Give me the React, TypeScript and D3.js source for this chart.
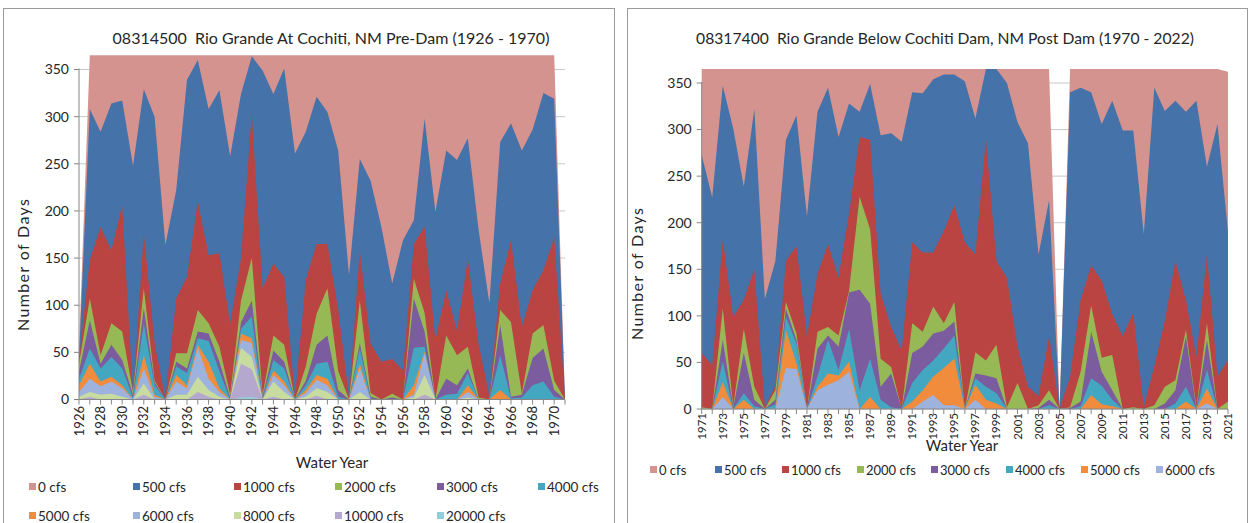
import React from 'react';
import * as d3 from 'd3';

// ---- categories ----
const preYears = [
  1926, 1927, 1928, 1929, 1930, 1931, 1932, 1933, 1934, 1935, 1936, 1937, 1938, 1939, 1940, 1941,
  1942, 1943, 1944, 1945, 1946, 1947, 1948, 1949, 1950, 1951, 1952, 1953, 1954, 1955, 1956, 1957,
  1958, 1959, 1960, 1961, 1962, 1963, 1964, 1965, 1966, 1967, 1968, 1969, 1970, 1971,
];
const postYears = [
  1971, 1972, 1973, 1974, 1975, 1976, 1977, 1978, 1979, 1980, 1981, 1982, 1983, 1984, 1985, 1986,
  1987, 1988, 1989, 1990, 1991, 1992, 1993, 1994, 1995, 1996, 1997, 1998, 1999, 2000, 2001, 2002,
  2003, 2004, 2005, 2006, 2007, 2008, 2009, 2010, 2011, 2012, 2013, 2014, 2015, 2016, 2017, 2018,
  2019, 2020, 2021,
];

const yTicks = [0, 50, 100, 150, 200, 250, 300, 350];
const legendNames = ['0 cfs', '500 cfs', '1000 cfs', '2000 cfs', '3000 cfs', '4000 cfs', '5000 cfs', '6000 cfs', '8000 cfs', '10000 cfs', '20000 cfs'];
const colors = ['#D5938F', '#4672AA', '#BA4442', '#97B955', '#7B5C9E', '#44A7C2', '#F08C3C', '#9DB2DD', '#C8DCA0', '#B5A8CF', '#93CDDD'];

// ---- pre-dam (1926 - 1971), days above each flow ----
const pre0 = [
  55, 365, 365, 365, 365, 365, 365, 365, 365, 365, 365, 365, 365, 365, 365, 365,
  365, 365, 365, 365, 365, 365, 365, 365, 365, 365, 365, 365, 365, 365, 365, 365,
  365, 365, 365, 365, 365, 365, 365, 365, 365, 365, 365, 365, 365, 0,
];
const pre500 = [
  45, 308, 284, 314, 317, 248, 329, 300, 164, 222, 339, 360, 308, 328, 258, 324,
  364, 349, 324, 351, 261, 284, 321, 305, 264, 132, 255, 232, 183, 123, 169, 190,
  298, 199, 264, 254, 277, 180, 102, 273, 293, 264, 286, 325, 319, 0,
];
const pre1000 = [
  42, 148, 183, 158, 206, 5, 176, 60, 1, 107, 130, 210, 153, 155, 80, 150,
  303, 118, 144, 130, 3, 127, 165, 165, 95, 3, 158, 59, 40, 43, 31, 165,
  183, 63, 116, 73, 149, 59, 3, 123, 169, 77, 116, 137, 172, 0,
];
const pre2000 = [
  38, 107, 47, 81, 72, 8, 118, 20, 0, 49, 49, 95, 81, 56, 5, 105,
  150, 5, 68, 58, 0, 35, 91, 118, 30, 0, 105, 7, 0, 6, 0, 128,
  92, 0, 68, 47, 56, 2, 0, 95, 82, 6, 70, 79, 20, 0,
];
const pre3000 = [
  30, 84, 38, 58, 42, 5, 97, 18, 0, 40, 33, 72, 70, 40, 2, 82,
  105, 3, 52, 40, 0, 20, 58, 68, 10, 0, 60, 3, 0, 2, 0, 107,
  72, 0, 22, 15, 33, 0, 0, 79, 3, 5, 44, 54, 10, 0,
];
const pre4000 = [
  22, 54, 33, 45, 33, 2, 81, 15, 0, 35, 28, 65, 62, 30, 0, 75,
  88, 1, 42, 33, 0, 15, 38, 40, 3, 0, 54, 1, 0, 0, 0, 55,
  56, 0, 5, 6, 28, 0, 0, 47, 1, 2, 15, 19, 3, 0,
];
const pre5000 = [
  15, 38, 19, 24, 15, 0, 47, 5, 0, 26, 15, 58, 40, 12, 0, 70,
  65, 0, 31, 19, 0, 10, 26, 22, 0, 0, 38, 0, 0, 0, 0, 15,
  51, 0, 0, 0, 15, 0, 0, 10, 0, 0, 0, 0, 0, 0,
];
const pre6000 = [
  8, 22, 14, 19, 12, 0, 33, 3, 0, 19, 12, 55, 22, 8, 0, 63,
  60, 0, 26, 15, 0, 7, 21, 15, 0, 0, 33, 0, 0, 0, 0, 5,
  49, 0, 0, 0, 8, 0, 0, 0, 0, 0, 0, 0, 0, 0,
];
const pre8000 = [
  3, 8, 5, 6, 3, 0, 17, 0, 0, 5, 5, 24, 10, 3, 0, 55,
  45, 0, 19, 8, 0, 3, 12, 8, 0, 0, 8, 0, 0, 0, 0, 2,
  26, 0, 0, 0, 2, 0, 0, 0, 0, 0, 0, 0, 0, 0,
];
const pre10000 = [
  0, 3, 0, 0, 0, 0, 5, 0, 0, 0, 0, 8, 3, 0, 0, 38,
  32, 0, 3, 0, 0, 0, 4, 0, 0, 0, 0, 0, 0, 0, 0, 0,
  5, 0, 0, 0, 0, 0, 0, 0, 0, 0, 0, 0, 0, 0,
];
const pre20000 = [
  0, 0, 0, 0, 0, 0, 0, 0, 0, 0, 0, 0, 0, 0, 0, 2,
  3, 0, 0, 0, 0, 0, 0, 0, 0, 0, 0, 0, 0, 0, 0, 0,
  0, 0, 0, 0, 0, 0, 0, 0, 0, 0, 0, 0, 0, 0,
];

// ---- post-dam (1971 - 2021) ----
const post0 = [
  365, 365, 365, 365, 365, 365, 365, 365, 365, 365, 365, 365, 365, 365, 365, 365,
  365, 365, 365, 365, 365, 365, 365, 365, 365, 365, 365, 365, 365, 365, 365, 365,
  365, 365, 0, 365, 365, 365, 365, 365, 365, 365, 365, 365, 365, 365, 365, 365,
  365, 365, 362,
];
const post500 = [
  273, 227, 347, 301, 239, 322, 118, 159, 289, 315, 207, 319, 345, 292, 328, 319,
  349, 294, 296, 287, 340, 339, 354, 359, 359, 352, 312, 365, 365, 350, 308, 285,
  166, 224, 0, 340, 345, 340, 306, 331, 299, 299, 188, 345, 320, 331, 319, 331,
  260, 306, 190,
];
const post1000 = [
  60, 47, 182, 99, 117, 150, 2, 25, 159, 175, 78, 145, 177, 141, 210, 292,
  289, 124, 88, 63, 179, 168, 168, 191, 219, 179, 166, 290, 159, 141, 67, 24,
  14, 78, 0, 35, 117, 154, 138, 102, 78, 103, 2, 46, 95, 159, 117, 56,
  166, 35, 53,
];
const post2000 = [
  2, 0, 108, 3, 86, 24, 0, 20, 115, 81, 0, 83, 88, 79, 127, 228,
  193, 54, 45, 0, 92, 83, 110, 92, 115, 0, 61, 52, 69, 2, 28, 0,
  4, 20, 0, 2, 40, 111, 55, 58, 0, 2, 0, 4, 24, 31, 85, 2,
  92, 0, 8,
];
const post3000 = [
  0, 0, 74, 2, 60, 10, 0, 10, 108, 74, 0, 65, 79, 67, 125, 128,
  113, 24, 38, 0, 60, 67, 81, 84, 94, 0, 38, 36, 33, 0, 0, 0,
  1, 10, 0, 1, 8, 83, 40, 20, 0, 0, 0, 0, 6, 20, 78, 0,
  74, 0, 0,
];
const post4000 = [
  0, 0, 51, 0, 17, 3, 0, 5, 99, 70, 0, 35, 74, 42, 86, 20,
  54, 10, 2, 0, 28, 42, 52, 65, 79, 0, 33, 24, 17, 0, 0, 0,
  0, 4, 0, 0, 3, 33, 25, 10, 0, 0, 0, 0, 0, 6, 24, 0,
  42, 0, 0,
];
const post5000 = [
  0, 0, 29, 0, 10, 0, 0, 0, 85, 49, 0, 24, 38, 36, 51, 0,
  13, 0, 0, 0, 8, 20, 35, 44, 54, 0, 26, 10, 6, 0, 0, 0,
  0, 0, 0, 0, 0, 15, 5, 3, 0, 0, 0, 0, 0, 0, 8, 0,
  22, 0, 0,
];
const post6000 = [
  0, 0, 13, 0, 0, 0, 0, 0, 44, 43, 0, 20, 26, 31, 40, 0,
  0, 0, 0, 0, 0, 8, 15, 4, 4, 0, 10, 0, 0, 0, 0, 0,
  0, 0, 0, 0, 0, 0, 0, 0, 0, 0, 0, 0, 0, 0, 0, 0,
  6, 0, 0,
];

const preSeries = [pre0, pre500, pre1000, pre2000, pre3000, pre4000, pre5000, pre6000, pre8000, pre10000, pre20000];
const postSeries = [post0, post500, post1000, post2000, post3000, post4000, post5000, post6000];

const FONT = 'Lato, "Liberation Sans", sans-serif';
const TEXT = '#262626';

type Layout = {
  frame: [number, number, number, number];
  x0: number; x1: number; yZero: number; y350: number;
  title: [number, number]; titleSize: number;
  yTitle: [number, number];
  xLabelTop: number; xLabelSize: number;
  xTitle: [number, number];
  legend: [number, number][];
  legendSize: number;
};

function Panel({ title, years, series, layout }: { title: string; years: number[]; series: number[][]; layout: Layout }) {
  const L = layout;
  const x = d3.scaleLinear().domain([years[0], years[years.length - 1]]).range([L.x0, L.x1]);
  const y = d3.scaleLinear().domain([0, 350]).range([L.yZero, L.y350]);
  const area = d3.area<number>()
    .x((_, i) => x(years[i]))
    .y0(y(0))
    .y1(d => y(d));
  const labelYears = years.filter((_, i) => i % 2 === 0);

  return (
    <g fontFamily={FONT}>
      <rect x={L.frame[0]} y={L.frame[1]} width={L.frame[2]} height={L.frame[3]} fill="#fff" stroke="#9a9a9a" strokeWidth={1} />
      <text x={L.title[0]} y={L.title[1]} textAnchor="middle" fontSize={L.titleSize} fill={TEXT} style={{ whiteSpace: 'pre' }}>{title}</text>

      {yTicks.map(t => (
        <line key={'g' + t} x1={L.x0} x2={L.x1} y1={y(t)} y2={y(t)} stroke="#c8c8c8" strokeWidth={1} />
      ))}

      {series.map((vals, k) => (
        <path key={'a' + k} d={area(vals) || ''} fill={colors[k]} />
      ))}

      {/* axes */}
      <line x1={L.x0} x2={L.x0} y1={y(0)} y2={y(350) - 1} stroke="#868686" />
      {yTicks.map(t => (
        <g key={'y' + t}>
          <line x1={L.x0 - 5} x2={L.x0} y1={y(t)} y2={y(t)} stroke="#868686" />
          <text x={L.x0 - 10} y={y(t)} dy="0.35em" textAnchor="end" fontSize={14} fill={TEXT}>{t}</text>
        </g>
      ))}
      <line x1={L.x0} x2={L.x1} y1={y(0)} y2={y(0)} stroke="#868686" />
      {years.map(yr => (
        <line key={'xt' + yr} x1={x(yr)} x2={x(yr)} y1={y(0)} y2={y(0) + 5} stroke="#868686" />
      ))}
      {labelYears.map(yr => (
        <text key={'xl' + yr} transform={`translate(${x(yr)},${L.xLabelTop}) rotate(-90)`} textAnchor="end" dy="0.35em" fontSize={L.xLabelSize} fill={TEXT}>{yr}</text>
      ))}

      <text transform={`translate(${L.yTitle[0]},${L.yTitle[1]}) rotate(-90)`} textAnchor="middle" fontSize={16}
        textLength={132} lengthAdjust="spacing" fill={TEXT}>Number of Days</text>
      <text x={L.xTitle[0]} y={L.xTitle[1]} textAnchor="middle" fontSize={15} fill={TEXT}>Water Year</text>

      {L.legend.map(([lx, ly], k) => (
        <g key={'l' + k}>
          <rect x={lx} y={ly - 4} width={7} height={7} fill={colors[k]} />
          <text x={lx + 9} y={ly} dy="0.35em" fontSize={L.legendSize} fill={TEXT}>{legendNames[k]}</text>
        </g>
      ))}
    </g>
  );
}

const leftLayout: Layout = {
  frame: [3.5, 8.5, 611, 530],
  x0: 79, x1: 565, yZero: 399.5, y350: 69.5,
  title: [331, 44], titleSize: 16,
  yTitle: [29, 265],
  xLabelTop: 406, xLabelSize: 13,
  xTitle: [332, 468],
  legend: [
    [29, 487], [133, 487], [234, 487], [335, 487], [437, 487], [538, 487],
    [29, 516], [133, 516], [234, 516], [335, 516], [437, 516],
  ],
  legendSize: 13.5,
};

const rightLayout: Layout = {
  frame: [627.5, 8.5, 620, 530],
  x0: 701.7, x1: 1228, yZero: 409, y350: 83,
  title: [945, 44], titleSize: 15.7,
  yTitle: [643, 274],
  xLabelTop: 413, xLabelSize: 11.5,
  xTitle: [962, 451],
  legend: [
    [650, 470], [715, 470], [782, 470], [857, 470], [931, 470], [1006, 470], [1081, 470], [1156, 470],
  ],
  legendSize: 13,
};

export default function App() {
  return (
    <svg width={1250} height={523} style={{ position: 'absolute', left: 0, top: 0, background: '#fff' }}>
      <rect width={1250} height={523} fill="#fff" />
      <Panel title="08314500  Rio Grande At Cochiti, NM Pre-Dam (1926 - 1970)" years={preYears} series={preSeries} layout={leftLayout} />
      <Panel title="08317400  Rio Grande Below Cochiti Dam, NM Post Dam (1970 - 2022)" years={postYears} series={postSeries} layout={rightLayout} />
    </svg>
  );
}
